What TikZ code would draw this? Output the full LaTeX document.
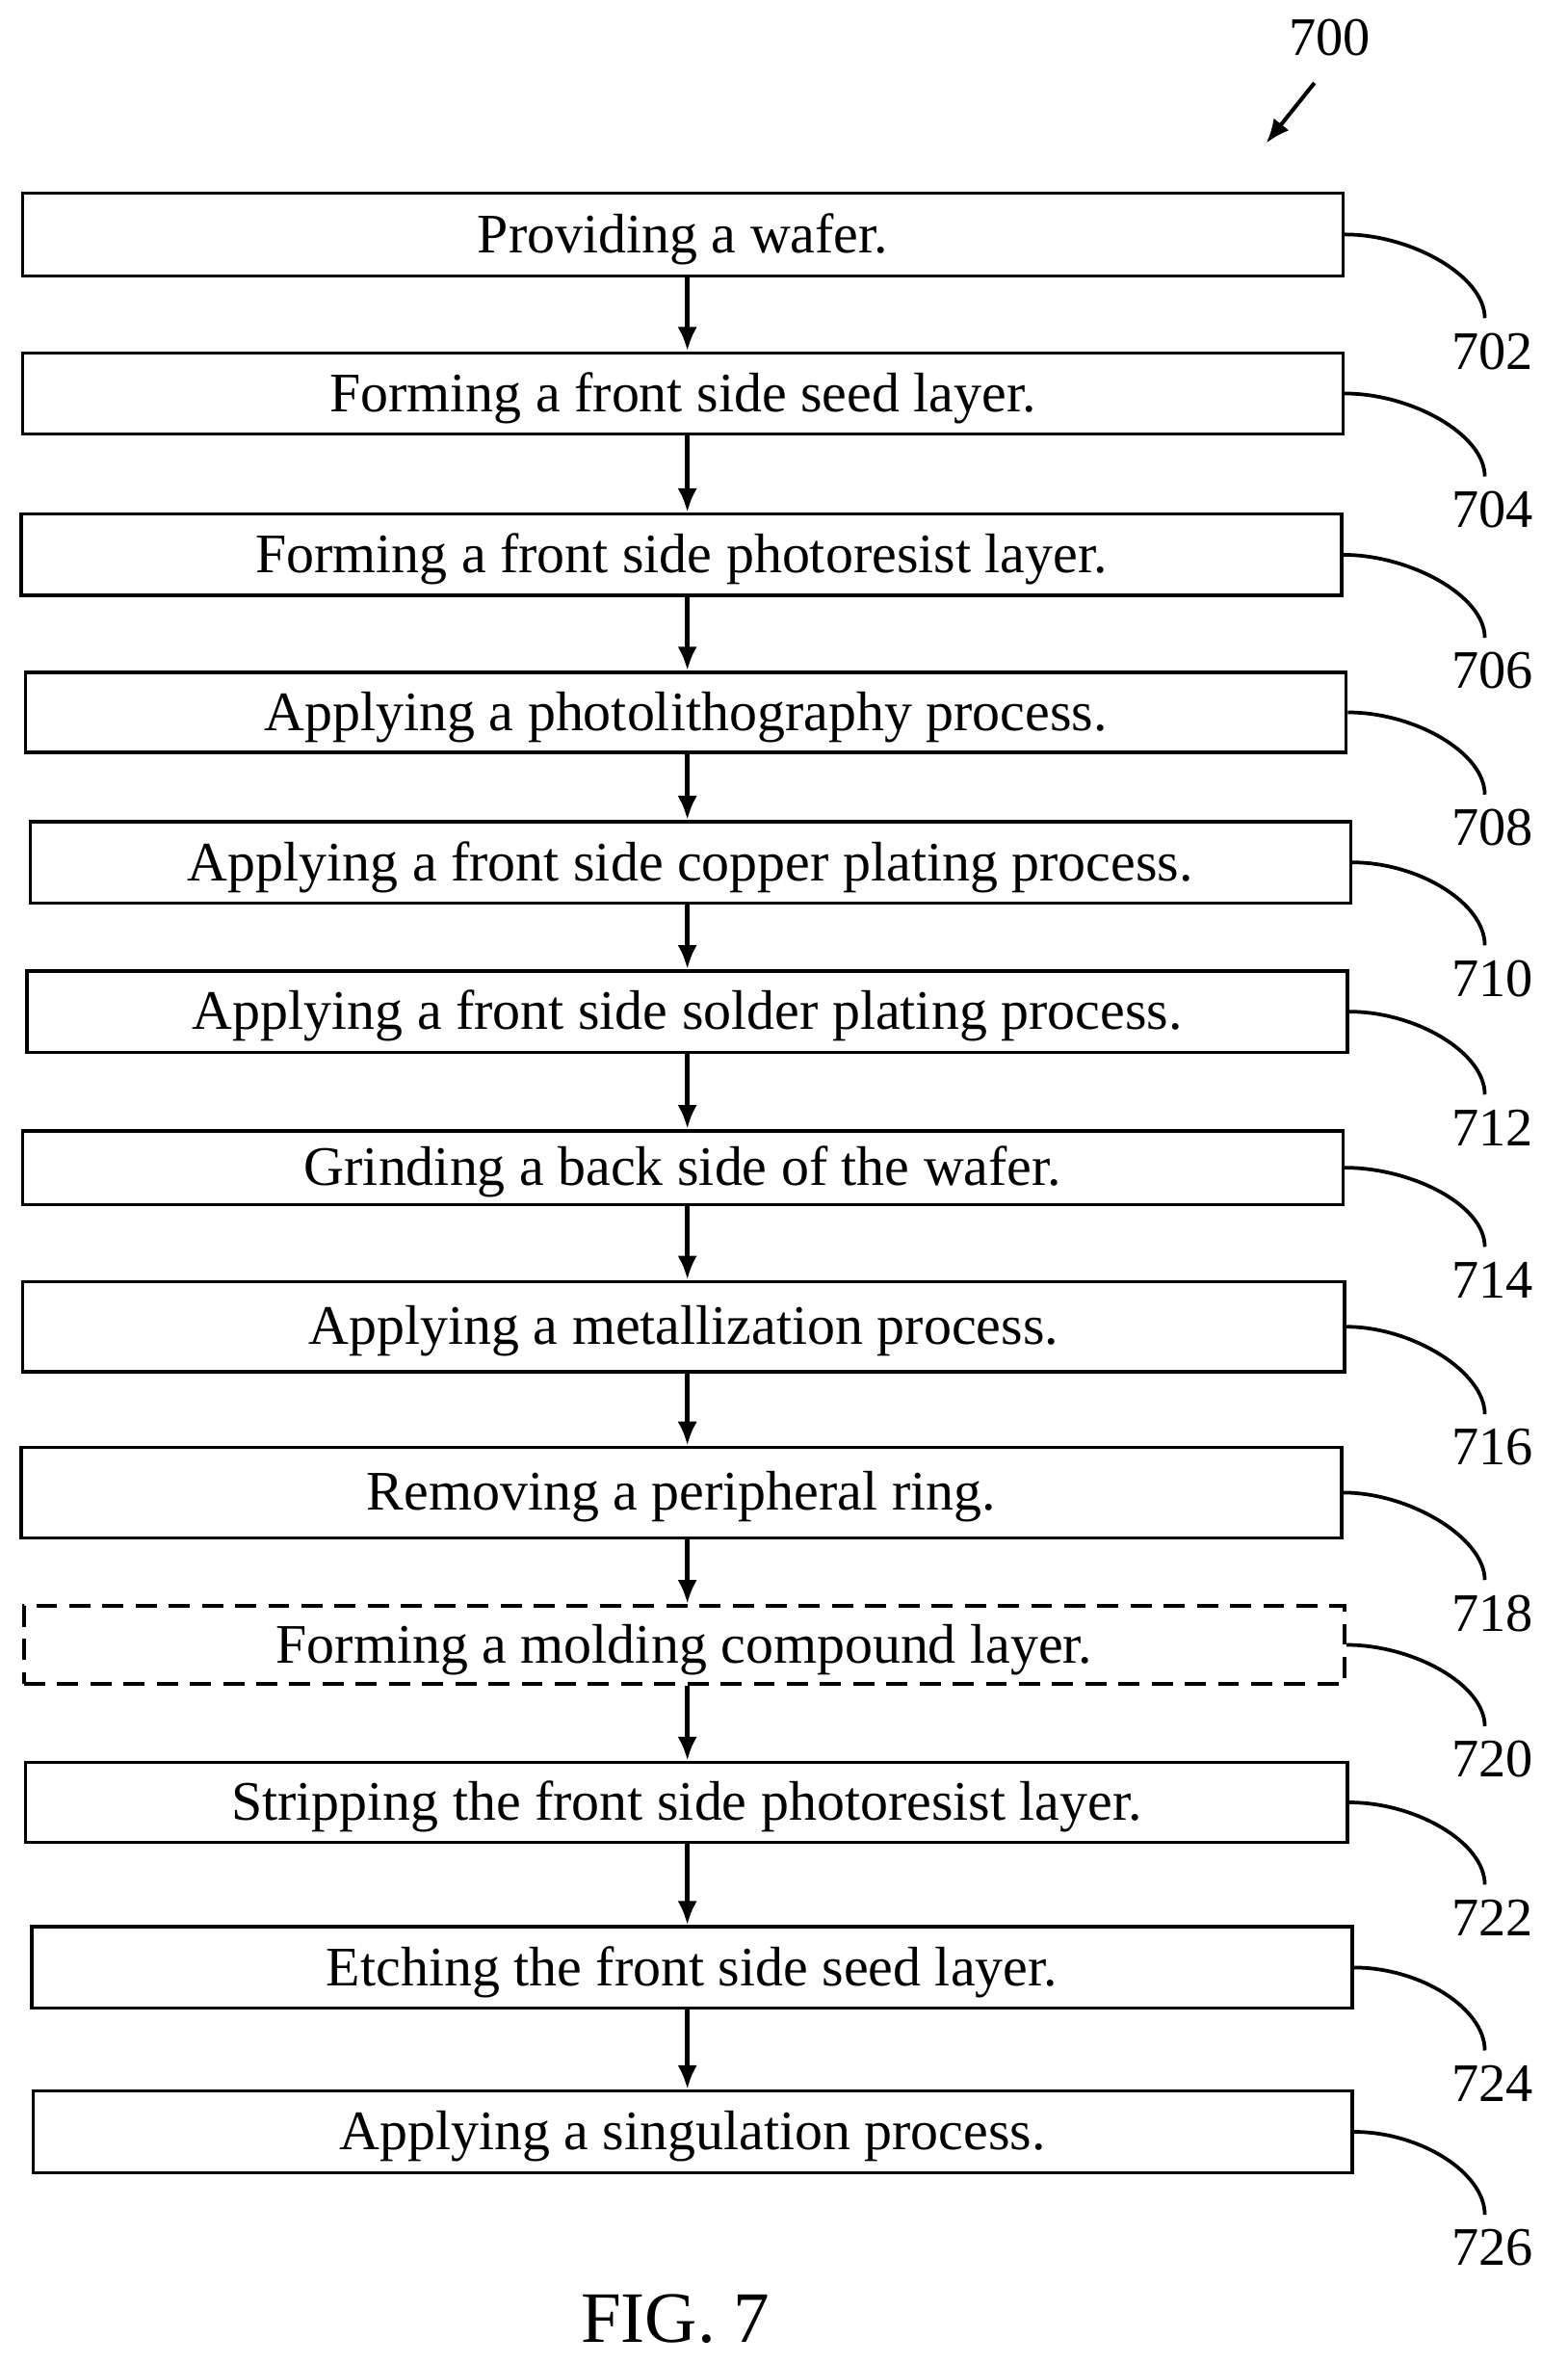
\documentclass[tikz,border=0pt]{standalone}
\usepackage{fontspec}
\setmainfont{Liberation Serif}
\usetikzlibrary{arrows.meta}
\begin{document}
\begin{tikzpicture}[x=1pt,y=-1pt,
 box/.style={draw,line width=2.2pt,inner sep=0pt},
 txt/.style={font=\fontsize{37}{40}\selectfont},
 lab/.style={font=\fontsize{36}{40}\selectfont},
 arr/.style={-{Latex[length=16pt,width=13pt]},line width=3.2pt},
 lead/.style={line width=2.4pt}]
\useasboundingbox (0,0) rectangle (1040,1568);
\def\mk#1#2#3#4#5#6#7{%
 \node[box,#7,minimum width=#2-#1,minimum height=#4-#3] (b#6) at ({(#1+#2)/2},{(#3+#4)/2}) {};
 \node[txt,yshift=-3pt] at (b#6.center) {#5};
 \node[lab] (l#6) at (990,{#4+50}) {#6};
 \draw[lead] (b#6.east) .. controls ({#2+45},{(#3+#4)/2}) and (985,{#4}) .. ({985},{#4+28});
}
\mk{15}{891}{128}{183}{Providing a wafer.}{702}{}
\mk{15}{891}{234}{288}{Forming a front side seed layer.}{704}{}
\mk{14}{890}{341}{395}{Forming a front side photoresist layer.}{706}{}
\mk{17}{893}{446}{499}{Applying a photolithography process.}{708}{}
\mk{20}{896}{545}{599}{Applying a front side copper plating process.}{710}{}
\mk{18}{894}{644}{698}{Applying a front side solder plating process.}{712}{}
\mk{15}{891}{750}{799}{Grinding a back side of the wafer.}{714}{}
\mk{15}{892}{850}{910}{Applying a metallization process.}{716}{}
\mk{14}{890}{960}{1020}{Removing a peripheral ring.}{718}{}
\mk{16}{892}{1065}{1117}{Forming a molding compound layer.}{720}{dash pattern=on 14pt off 8pt}
\mk{17}{894}{1169}{1222}{Stripping the front side photoresist layer.}{722}{}
\mk{21}{897}{1278}{1332}{Etching the front side seed layer.}{724}{}
\mk{22}{897}{1387}{1441}{Applying a singulation process.}{726}{}
\foreach \a/\b in {702/704,704/706,706/708,708/710,710/712,712/714,714/716,716/718,718/720,720/722,722/724,724/726}
 \draw[arr] (b\a.south -| 456,0) -- (b\b.north -| 456,0);
\node[lab] (n700) at (882,25) {700};
\coordinate (t700) at (840,95);
\draw[-{Latex[length=16pt,width=13pt]},line width=2.6pt] (872,55) -- (t700);
\node[font=\fontsize{48}{52}\selectfont] (fig) at (448,1538) {FIG. 7};
\end{tikzpicture}
\end{document}
